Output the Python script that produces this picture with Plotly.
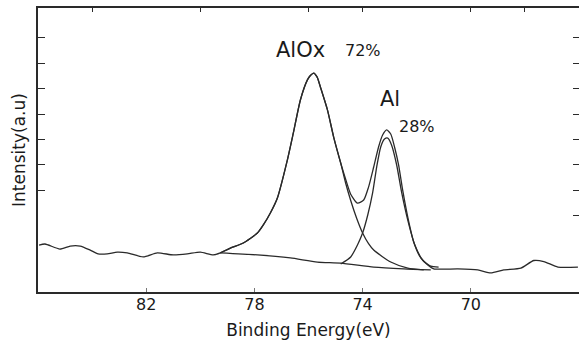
import plotly.graph_objects as go

# ---- data (binding energy in eV, intensity in a.u.) ----
meas_e = [85.96, 85.74, 85.19, 84.81, 84.44, 84.07, 83.78, 83.44, 83.07, 82.70,
          82.11, 81.59, 81.00, 80.48, 80.00, 79.52, 79.26, 78.89, 78.41, 77.89,
          77.67, 77.41, 77.15, 76.78, 76.56, 76.30, 76.04, 75.93, 75.81, 75.68,
          75.56, 75.30, 75.07, 74.81, 74.63, 74.44, 74.19, 73.96, 73.78, 73.59,
          73.41, 73.26, 73.11, 72.96, 72.81, 72.67, 72.52, 72.33, 72.11, 71.85,
          71.59, 71.37, 70.48, 69.74, 69.26, 68.78, 68.15, 67.67, 67.30, 66.78,
          66.04]
meas_i = [1.85, 1.89, 1.69, 1.81, 1.81, 1.65, 1.50, 1.50, 1.57, 1.54,
          1.38, 1.54, 1.46, 1.50, 1.57, 1.46, 1.54, 1.73, 1.93, 2.32,
          2.64, 3.11, 3.70, 5.20, 6.26, 7.56, 8.35, 8.52, 8.62, 8.46,
          8.07, 7.17, 6.10, 5.08, 4.45, 3.85, 3.50, 3.62, 4.13, 4.92,
          5.71, 6.18, 6.38, 6.22, 5.67, 5.00, 4.02, 2.95, 1.97, 1.34,
          1.06, 0.91, 0.91, 0.87, 0.75, 0.87, 0.94, 1.24, 1.20, 0.98,
          0.98]

bg_e = [79.26, 77.89, 76.67, 75.67, 74.81, 73.59, 72.48, 71.48]
bg_i = [1.54, 1.46, 1.34, 1.18, 1.14, 0.98, 0.91, 0.87]

alox_e = [79.26, 78.89, 78.41, 77.89, 77.67, 77.41, 77.15, 76.78, 76.56, 76.30,
          76.04, 75.93, 75.81, 75.68, 75.56, 75.30, 75.07, 74.81, 74.63, 74.44,
          74.22, 74.00, 73.78, 73.59, 72.96, 72.33, 71.74]
alox_i = [1.54, 1.73, 1.93, 2.32, 2.64, 3.11, 3.70, 5.20, 6.26, 7.56,
          8.35, 8.52, 8.62, 8.46, 8.07, 7.17, 6.10, 5.08, 4.30, 3.60,
          2.90, 2.32, 1.90, 1.65, 1.18, 0.94, 0.87]

al_e = [74.81, 74.44, 74.19, 74.00, 73.81, 73.63, 73.48, 73.33, 73.19, 73.07,
        72.93, 72.74, 72.56, 72.33, 72.07, 71.78, 71.48, 71.19]
al_i = [1.10, 1.38, 1.85, 2.32, 3.03, 3.90, 4.92, 5.71, 6.02, 6.06,
        5.79, 5.00, 3.94, 2.83, 1.85, 1.26, 1.02, 0.98]

x_tick_vals = [82, 78, 74, 70]
x_tick_text = ["82", "78", "74", "70"]
top_tick_vals = [84, 80, 76, 74, 70, 68]
left_tick_vals = [4, 5, 6, 7, 8, 9, 10]
right_tick_vals = [3, 4, 5, 6, 7, 8, 9, 10]

label_text = ["AlOx", "72%", "Al", "28%"]
label_e = [76.30, 74.00, 73.00, 72.00]
label_i = [9.53, 9.49, 7.58, 6.50]
label_size = [21, 16, 21, 16]

x_title = "Binding Energy(eV)"
y_title = "Intensity(a.u)"

# ---- figure ----
FONT = "DejaVu Sans"
LC = "#2a2a2a"
fig = go.Figure()
line = dict(color=LC, width=1.3, shape="spline", smoothing=0.6)
fig.add_trace(go.Scatter(x=bg_e, y=bg_i, mode="lines", line=line, name="background"))
fig.add_trace(go.Scatter(x=alox_e, y=alox_i, mode="lines", line=line, name="AlOx"))
fig.add_trace(go.Scatter(x=al_e, y=al_i, mode="lines", line=line, name="Al"))
fig.add_trace(go.Scatter(x=meas_e, y=meas_i, mode="lines", line=line, name="spectrum"))
# invisible trace to carry the secondary axes
fig.add_trace(go.Scatter(x=[86], y=[0], mode="markers", marker=dict(opacity=0),
                         xaxis="x2", yaxis="y2", showlegend=False, hoverinfo="skip"))

for t, e, i, s in zip(label_text, label_e, label_i, label_size):
    fig.add_annotation(x=e, y=i, text=t, showarrow=False, xanchor="center",
                       yanchor="middle", font=dict(family=FONT, size=s, color="#1a1a1a"))

fig.update_layout(
    width=579, height=340,
    margin=dict(l=38, r=0, t=8, b=48),
    paper_bgcolor="white", plot_bgcolor="white",
    showlegend=False,
    font=dict(family=FONT, color="#1a1a1a"),
    xaxis=dict(range=[86, 66], showgrid=False, zeroline=False,
               showline=True, linewidth=2, linecolor=LC,
               ticks="inside", ticklen=4, tickwidth=1, tickcolor="#777",
               tickvals=x_tick_vals, ticktext=x_tick_text, ticklabelstandoff=-3,
               tickfont=dict(family=FONT, size=16),
               title=dict(text=x_title, font=dict(family=FONT, size=17), standoff=11)),
    xaxis2=dict(range=[86, 66], overlaying="x", side="top", showgrid=False,
                zeroline=False, showline=True, linewidth=1.6, linecolor=LC,
                ticks="inside", ticklen=4, tickwidth=1, tickcolor=LC,
                tickvals=top_tick_vals, showticklabels=False),
    yaxis=dict(range=[0, 11.18], showgrid=False, zeroline=False,
               showline=True, linewidth=2, linecolor=LC,
               ticks="inside", ticklen=7, tickwidth=1.2, tickcolor=LC,
               tickvals=left_tick_vals, showticklabels=False,
               title=dict(text=y_title, font=dict(family=FONT, size=17), standoff=6)),
    yaxis2=dict(range=[0, 11.18], overlaying="y", side="right", showgrid=False,
                zeroline=False, showline=False,
                ticks="inside", ticklen=6, tickwidth=1.2, tickcolor=LC,
                tickvals=right_tick_vals, showticklabels=False),
)

fig.write_html("out.html", config={"displayModeBar": False},
               post_script="document.body.style.margin='0px';")
